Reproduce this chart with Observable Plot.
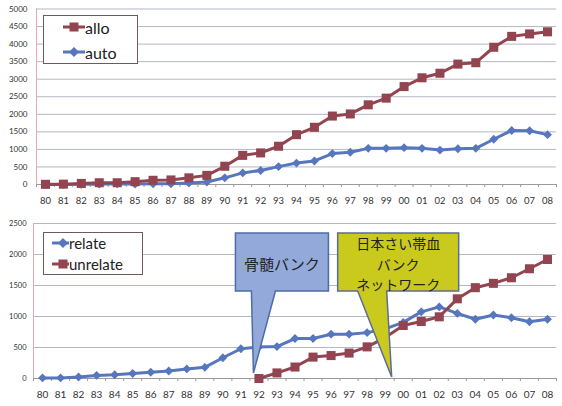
<!DOCTYPE html>
<html><head><meta charset="utf-8">
<script src="https://cdn.jsdelivr.net/npm/d3@7"></script>
<script src="https://cdn.jsdelivr.net/npm/@observablehq/plot@0.6"></script>
<style>
body{margin:0;background:#fff;}
#wrap{position:relative;width:562px;height:406px;overflow:hidden;background:#fff;font-family:Lato,"Noto Sans CJK JP",sans-serif;}
.chart{position:absolute;left:0;}
.legend{position:absolute;background:#fff;border:1px solid #6e5a5a;box-sizing:border-box;}
.item{position:absolute;display:flex;align-items:center;color:#222;white-space:nowrap;}
.item svg{display:block;}
</style>
</head><body>
<div id="wrap"></div>
<script>
const years = ["80","81","82","83","84","85","86","87","88","89","90","91","92","93","94","95","96","97","98","99","00","01","02","03","04","05","06","07","08"];
const allo = [5,10,30,50,50,80,120,130,190,260,520,830,900,1090,1420,1630,1950,2010,2270,2460,2790,3040,3170,3430,3470,3910,4220,4290,4350];
const auto = [0,0,5,10,20,15,20,20,40,70,190,330,400,510,610,670,880,920,1030,1030,1050,1030,980,1020,1030,1290,1540,1530,1420];
const relate = [10,10,25,50,60,80,100,120,155,180,335,480,510,515,645,645,715,715,740,800,905,1075,1155,1050,955,1025,980,915,955];
const unrelate = [null,null,null,null,null,null,null,null,null,null,null,null,0,90,185,345,370,410,510,660,855,920,995,1285,1465,1535,1625,1770,1920];

const RED = "#924550", BLUE = "#5676BE";

function rowsOf(values){ const r=[]; values.forEach((v,i)=>{ if(v!=null) r.push({i,v}); }); return r; }

function chart(o){
  const ticksY = d3.range(0, o.yMax + 1, o.yStep);
  const marks = [
    Plot.ruleY(ticksY.filter(t=>t>0), {stroke:"#b3b7c6", strokeWidth:1}),
    Plot.ruleX([-0.5], {y1:0, y2:o.yMax, stroke:"#e2a9b1", strokeWidth:1}),
    Plot.axisY({ticks:ticksY, label:null, tickSize:0, tickPadding:o.yPad, fontSize:o.yFont, fill:"#333", tickFormat:d=>String(d)}),
    Plot.ruleY([0], {stroke:"#9a9a9a", strokeWidth:1}),
    Plot.axisX({ticks:d3.range(-0.5, years.length, 1), label:null, tickSize:3, stroke:"#9a9a9a", tickFormat:()=>""}),
    Plot.axisX({ticks:d3.range(years.length), label:null, tickSize:0, tickPadding:o.xPad, fontSize:o.xFont, fill:"#333", tickFormat:i=>years[i]})
  ];
  for (const s of o.series){
    const rows = rowsOf(s.values);
    marks.push(Plot.line(rows, {x:"i", y:"v", stroke:s.color, strokeWidth:3}));
    marks.push(Plot.dot(rows, {x:"i", y:"v", symbol:s.symbol, r:s.r, fill:s.color, stroke:"none"}));
  }
  const svg = Plot.plot({
    width:562, height:o.height,
    marginLeft:o.ml, marginRight:6, marginTop:o.mt, marginBottom:o.mb,
    x:{type:"linear", domain:[-0.5, years.length-0.5], axis:null, label:null},
    y:{domain:[0,o.yMax], axis:null, label:null},
    style:{fontFamily:"Lato, 'Noto Sans CJK JP', sans-serif", background:"transparent"},
    marks
  });
  svg.classList.add("chart");
  svg.style.top = o.top + "px";
  return svg;
}

const wrap = document.getElementById("wrap");

const top1 = chart({height:207, top:0, ml:36, mt:8.5, mb:23, yMax:5000, yStep:500, yPad:9, yFont:8, xPad:13, xFont:9.5,
  series:[{values:auto,color:BLUE,symbol:"diamond2",r:4},{values:allo,color:RED,symbol:"square",r:5.1}]});
wrap.appendChild(top1);

const bot = chart({height:199, top:207, ml:33, mt:16, mb:28, yMax:2500, yStep:500, yPad:7, yFont:7.5, xPad:12, xFont:10,
  series:[{values:relate,color:BLUE,symbol:"diamond2",r:4},{values:unrelate,color:RED,symbol:"square",r:5.1}]});
wrap.appendChild(bot);

// callouts anchored to the bottom chart's scales
const callouts = [
  {lines:["骨髄バンク"], year:"92", tip:[-5,-5], box:[-18,75,-140,-82], base:[-2,22], fill:"#93A9D9", stroke:"#4E6CA8", textY:56, size:15},
  {lines:["日本さい帯血","バンク","ネットワーク"], year:"99", tip:[7,-1], box:[-54,67,-144,-86], base:[-34,-5], fill:"#CACA1E", stroke:"#5D6C94", textY:36, size:14}
];
const sx = bot.scale("x"), sy = bot.scale("y");
const g = d3.select(bot).append("g");
for (const c of callouts){
  const tx = sx.apply(years.indexOf(c.year)) + c.tip[0];
  const ty = sy.apply(0) + c.tip[1];
  const [l,r,t,b] = c.box;
  const pts = [[tx+l,ty+t],[tx+r,ty+t],[tx+r,ty+b],[tx+c.base[1],ty+b],[tx,ty],[tx+c.base[0],ty+b],[tx+l,ty+b]];
  g.append("polygon").attr("points", pts.map(p=>p.join(",")).join(" "))
    .attr("fill", c.fill).attr("stroke", c.stroke).attr("stroke-width", 1.5);
  const cx = tx + (l + r)/2;
  c.lines.forEach((s,k)=>{
    g.append("text").attr("x", cx).attr("y", c.textY + k * 20.5).attr("text-anchor","middle")
      .attr("dominant-baseline","central").attr("font-size",c.size)
      .attr("font-family","'Noto Sans CJK JP', sans-serif").attr("fill","#222").text(s);
  });
}

// legends
function marker(color, symbol){
  const s = d3.create("svg").attr("width",22).attr("height",12);
  s.append("line").attr("x1",0).attr("x2",22).attr("y1",6).attr("y2",6).attr("stroke",color).attr("stroke-width",3);
  if (symbol==="square") s.append("rect").attr("x",6.5).attr("y",1.5).attr("width",9).attr("height",9).attr("fill",color);
  else s.append("path").attr("d","M11,1L16,6L11,11L6,6Z").attr("fill",color);
  return s.node();
}
function legend(box, items, font){
  const d = document.createElement("div");
  d.className = "legend";
  Object.assign(d.style, {left:box[0]+"px", top:box[1]+"px", width:box[2]+"px", height:box[3]+"px"});
  items.forEach(it=>{
    const row = document.createElement("div");
    row.className = "item";
    Object.assign(row.style, {left:it.x+"px", top:it.y+"px", fontSize:font+"px", height:"20px"});
    const m = marker(it.color, it.symbol);
    m.setAttribute("width", it.w);
    row.appendChild(m);
    const sp = document.createElement("span"); sp.textContent = it.name; row.appendChild(sp);
    d.appendChild(row);
  });
  wrap.appendChild(d);
}
legend([43,15,95,49], [
  {name:"allo", color:RED, symbol:"square", x:19, y:1, w:22},
  {name:"auto", color:BLUE, symbol:"diamond", x:19, y:26, w:22}
], 16);
legend([43,232,100,43], [
  {name:"relate", color:BLUE, symbol:"diamond", x:8, y:0, w:17},
  {name:"unrelate", color:RED, symbol:"square", x:8, y:21, w:17}
], 15);
</script>
</body></html>
